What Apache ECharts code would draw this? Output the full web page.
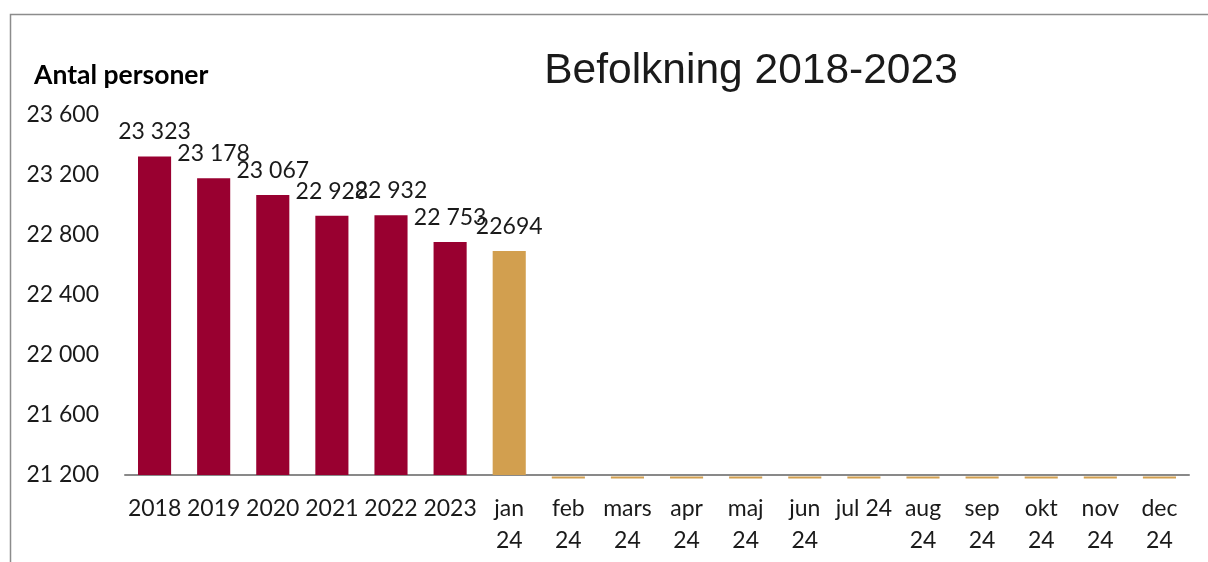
<!DOCTYPE html>
<html><head><meta charset="utf-8">
<script src="https://cdn.jsdelivr.net/npm/echarts@6/dist/echarts.min.js"></script>
<style>html,body{margin:0;padding:0;background:#fff;}#c{width:1208px;height:562px;}</style>
</head><body><div id="c"></div>
<script>
const categories = ['2018','2019','2020','2021','2022','2023','jan\n24','feb\n24','mars\n24','apr\n24','maj\n24','jun\n24','jul 24','aug\n24','sep\n24','okt\n24','nov\n24','dec\n24'];
const values = [23323, 23178, 23067, 22928, 22932, 22753, 22694, 0, 0, 0, 0, 0, 0, 0, 0, 0, 0, 0];
const isYear = [true, true, true, true, true, true, false, false, false, false, false, false, false, false, false, false, false, false];
const yTicks = {min: 21200, max: 23600, interval: 400};
const RED = '#990030', GOLD = '#D29F4F';
const FONT = 'Lato';

function spaced(v){ return String(v).replace(/\B(?=(\d{3})+(?!\d))/g, ' '); }

const barData = values.map((v,i)=>({
  value: v > 0 ? v : null,
  itemStyle: {color: isYear[i] ? RED : GOLD}
}));
const placeholder = values.map((v,i)=> v === 0 ? [i, yTicks.min] : null).filter(Boolean);

const chart = echarts.init(document.getElementById('c'), null, {renderer:'canvas'});
chart.setOption({
  animation: false,
  backgroundColor: '#fff',
  title: {
    text: 'Befolkning 2018-2023', left: 746, top: 45, textAlign: 'center',
    textStyle: {fontFamily: 'Liberation Sans', fontSize: 42.5, fontWeight: 'normal', color: '#1a1a1a'}
  },
  graphic: [
    {type:'rect', left: 8, top: 12, shape:{width: 1300, height: 700}, style:{fill:'none', stroke:'#8c8c8c', lineWidth:1.5}, silent:true},
    {type:'text', left: 34, top: 62, style:{text:'Antal personer', font:'bold 26.5px Lato', fill:'#000'}}
  ],
  grid: {left: 125, right: 19, top: 115, bottom: 87},
  xAxis: {
    type: 'category', data: categories,
    axisLine: {lineStyle: {color: '#898989', width: 2}},
    axisTick: {show: false},
    axisLabel: {interval: 0, fontFamily: FONT, fontSize: 23, color: '#1a1a1a', margin: 18, lineHeight: 32}
  },
  yAxis: {
    type: 'value', min: yTicks.min, max: yTicks.max, interval: yTicks.interval,
    axisLine: {show: false}, axisTick: {show: false}, splitLine: {show: false},
    axisLabel: {fontFamily: FONT, fontSize: 23, color: '#1a1a1a', margin: 26, formatter: v => spaced(v)}
  },
  series: [
    {
      type: 'bar', data: barData, barWidth: '56%',
      label: {
        show: true, position: 'top', distance: 13,
        fontFamily: FONT, fontSize: 23, color: '#1a1a1a',
        formatter: p => isYear[p.dataIndex] ? spaced(p.value) : String(p.value)
      }
    },
    {
      type: 'custom', data: placeholder, silent: true,
      renderItem: (params, api) => {
        const pt = api.coord([api.value(0), api.value(1)]);
        const w = api.size([1, 0])[0] * 0.56;
        return {type:'rect', shape:{x: pt[0]-w/2, y: pt[1]+1.5, width: w, height: 2}, style:{fill: GOLD}};
      }
    }
  ]
});
</script></body></html>
